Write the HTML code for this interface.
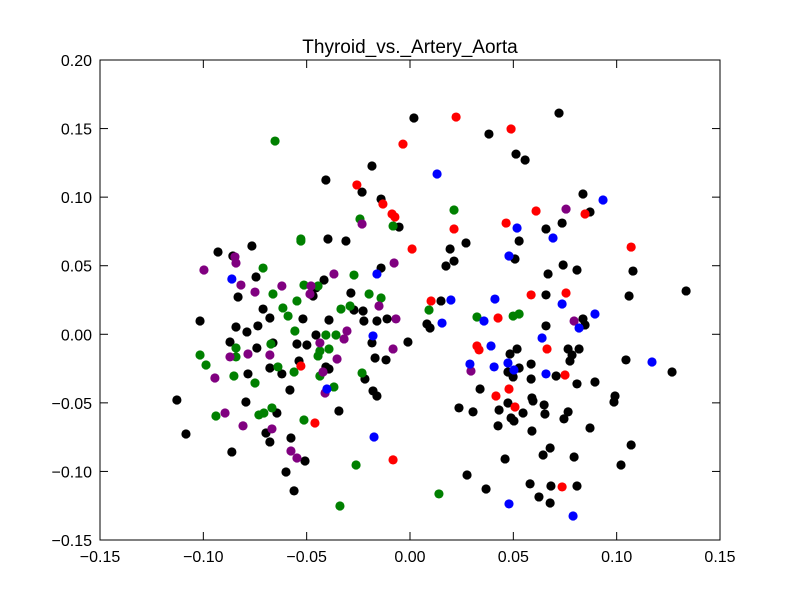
<!DOCTYPE html>
<html><head><meta charset="utf-8"><style>
html,body{margin:0;padding:0;background:#fff;}
svg text{font-family:"Liberation Sans",sans-serif;}
</style></head><body>
<svg id="chart" width="800" height="600" xmlns="http://www.w3.org/2000/svg">
<rect x="0" y="0" width="800" height="600" fill="#fff"/>
<text x="410" y="53" text-anchor="middle" font-size="19">Thyroid_vs._Artery_Aorta</text>
<g id="marks"></g>
<g id="axes"></g>
</svg>
<script>
const xTicks = [-0.15,-0.10,-0.05,0.00,0.05,0.10,0.15];
const xTickLabels = ["\u22120.15","\u22120.10","\u22120.05","0.00","0.05","0.10","0.15"];
const yTicks = [0.20,0.15,0.10,0.05,0.00,-0.05,-0.10,-0.15];
const yTickLabels = ["0.20","0.15","0.10","0.05","0.00","\u22120.05","\u22120.10","\u22120.15"];
const blackX = [-0.0407,-0.0184,-0.0232,-0.014,-0.0053,-0.0397,-0.031,-0.0929,-0.0857,-0.0765,-0.0745,-0.0832,-0.0711,-0.0678,-0.0518,-0.0392,-0.0469,-0.0455,-0.0416,-0.0286,-0.0271,-0.0227,-0.0223,-0.016,-0.0111,-0.014,-0.1016,-0.0842,-0.0736,-0.0789,-0.0871,-0.0741,-0.0663,-0.0547,-0.0499,-0.0455,-0.0184,-0.001,-0.0169,-0.0116,-0.0537,-0.0407,-0.0392,-0.0678,-0.062,-0.0784,-0.0218,-0.0581,-0.0179,-0.016,-0.1128,-0.0794,-0.0644,-0.0344,-0.1084,-0.0697,-0.0678,-0.0576,-0.0862,-0.0508,-0.06,-0.0561,0.0019,0.0721,0.0382,0.0513,0.0557,0.0837,0.0871,0.0736,0.0658,0.0528,0.0271,0.0194,0.0213,0.0174,0.0508,0.0668,0.0741,0.0808,0.1079,0.106,0.1336,0.015,0.0658,0.0082,0.0097,0.0658,0.0837,0.0847,0.0518,0.0484,0.0765,0.0818,0.0784,0.0774,0.0586,0.0528,0.0474,0.0499,0.0586,0.0707,0.0808,0.0895,0.1045,0.1268,0.0339,0.059,0.0595,0.0474,0.0649,0.0992,0.0987,0.0237,0.0305,0.0431,0.0547,0.0653,0.0765,0.0745,0.0489,0.0503,0.0426,0.059,0.0871,0.0678,0.0644,0.046,0.0794,0.107,0.1021,0.0276,0.0581,0.0682,0.0808,0.0368,0.0624,0.0678];
const blackY = [0.1125,0.1227,0.1037,0.0986,0.0782,0.0695,0.068,0.06,0.0571,0.0644,0.0418,0.0272,0.0184,0.0119,0.0112,0.0104,0.0279,0.0338,0.0396,0.0301,0.0177,0.017,0.0097,0.0097,0.0112,0.0483,0.0097,0.0053,0.0061,0.0017,-0.0056,-0.01,-0.0063,-0.0071,-0.0078,-0.0005,-0.0063,-0.0056,-0.0173,-0.0187,-0.0195,-0.0238,-0.0253,-0.0246,-0.0289,-0.0289,-0.0326,-0.0406,-0.0413,-0.045,-0.0479,-0.0494,-0.0574,-0.0559,-0.0727,-0.072,-0.0785,-0.0756,-0.0858,-0.0924,-0.1004,-0.1142,0.1577,0.1613,0.146,0.1314,0.1271,0.1023,0.0892,0.0811,0.0768,0.068,0.0666,0.0622,0.0534,0.0498,0.0549,0.044,0.0505,0.0469,0.0461,0.0279,0.0316,0.0243,0.0287,0.0075,0.0046,0.0061,0.0112,0.0068,-0.0107,-0.0144,-0.0107,-0.0107,-0.0151,-0.0195,-0.0217,-0.0246,-0.0275,-0.0311,-0.0326,-0.0304,-0.0362,-0.0348,-0.0187,-0.0275,-0.0399,-0.0464,-0.0486,-0.0501,-0.0515,-0.045,-0.0494,-0.0537,-0.0566,-0.0552,-0.0574,-0.0581,-0.0566,-0.0617,-0.061,-0.0632,-0.0668,-0.0705,-0.0683,-0.0829,-0.088,-0.0909,-0.0895,-0.0807,-0.0953,-0.1026,-0.1091,-0.1106,-0.1106,-0.1128,-0.1186,-0.123];
const greenX = [-0.0653,-0.0528,-0.0528,-0.0242,-0.0082,-0.0711,-0.0513,-0.0445,-0.0271,-0.0198,-0.014,-0.0663,-0.0615,-0.059,-0.0547,-0.0334,-0.029,-0.0557,-0.0407,-0.0358,-0.0842,-0.0842,-0.1016,-0.0987,-0.0673,-0.0436,-0.0445,-0.0392,-0.0639,-0.0561,-0.0436,-0.0368,-0.0232,-0.0852,-0.075,-0.0939,-0.0731,-0.0707,-0.0668,-0.0513,-0.0261,-0.0339,0.0213,0.0092,0.0324,0.0499,0.0528,0.014];
const greenY = [0.1409,0.0695,0.068,0.0841,0.079,0.0483,0.0359,0.0352,0.0432,0.0294,0.0265,0.0294,0.0192,0.0133,0.0243,0.0184,0.0206,0.0024,-0.0005,-0.0005,-0.01,-0.0165,-0.0151,-0.0224,-0.0071,-0.0122,-0.0158,-0.0107,-0.0238,-0.0275,-0.0304,-0.0384,-0.0282,-0.0304,-0.0355,-0.0596,-0.0588,-0.0574,-0.0537,-0.0625,-0.0953,-0.1252,0.0906,0.0177,0.0126,0.0133,0.0148,-0.1164];
const purpleX = [-0.0997,-0.0847,-0.0842,-0.0818,-0.075,-0.062,-0.0479,-0.0484,-0.0368,-0.0232,-0.0077,-0.015,-0.0068,-0.0305,-0.0319,-0.0436,-0.0871,-0.0784,-0.0678,-0.0353,-0.0421,-0.0411,-0.0082,-0.0944,-0.0895,-0.0808,-0.0668,-0.0576,-0.0547,0.0755,0.0794,0.0295];
const purpleY = [0.0469,0.0564,0.052,0.0359,0.0308,0.0352,0.0352,0.0294,0.044,0.0804,0.052,0.0206,0.0112,0.0024,-0.0034,-0.0063,-0.0165,-0.0144,-0.0151,-0.018,-0.0275,-0.0428,-0.0107,-0.0319,-0.0574,-0.0668,-0.069,-0.0851,-0.0902,0.0913,0.0097,-0.0268];
const redX = [-0.0257,0.0223,-0.0034,-0.0131,-0.0087,-0.0073,0.001,0.0102,0.0489,0.0465,0.0213,0.061,0.0847,0.107,0.0586,0.0755,0.0426,0.0324,0.0334,0.0663,0.075,0.0479,0.0416,0.0508,0.0736,-0.0528,-0.046,-0.0082];
const redY = [0.1089,0.1584,0.1387,0.095,0.0877,0.0855,0.0622,0.0243,0.1497,0.0811,0.0768,0.0899,0.0877,0.0636,0.0287,0.0301,0.0119,-0.0085,-0.0114,-0.0107,-0.0297,-0.0399,-0.045,-0.053,-0.1113,-0.0231,-0.0647,-0.0916];
const blueX = [0.0131,0.0934,0.0518,0.0692,0.0479,0.0198,0.0411,0.0736,0.0895,0.0155,0.0358,0.0818,0.0639,0.0392,0.029,0.0407,0.0474,0.0503,0.0658,0.1171,0.0479,0.0789,-0.0862,-0.016,-0.0179,-0.0402,-0.0174];
const blueY = [0.1169,0.0979,0.0775,0.0702,0.0571,0.025,0.0257,0.0221,0.0148,0.0082,0.0097,0.0046,-0.0027,-0.0085,-0.0217,-0.0238,-0.0209,-0.026,-0.0289,-0.0202,-0.1237,-0.1325,0.0403,0.044,-0.0012,-0.0399,-0.0749];

const L=100,R=720,T=60,B=540;
const xMin=-0.15,xMax=0.15,yMin=-0.15,yMax=0.20;
function sx(v){return L+(v-xMin)/(xMax-xMin)*(R-L);}
function sy(v){return B-(v-yMin)/(yMax-yMin)*(B-T);}
const NS="http://www.w3.org/2000/svg";
const marks=document.getElementById('marks');
const axes=document.getElementById('axes');
function mk(tag,attrs,parent){const e=document.createElementNS(NS,tag);for(const k in attrs)e.setAttribute(k,attrs[k]);parent.appendChild(e);return e;}
function series(xs,ys,color,name){
  const g=mk('g',{},marks);
  
  
  for(let i=0;i<xs.length;i++){
    const c=mk('circle',{cx:sx(xs[i]),cy:sy(ys[i]),r:4.6,fill:color},g);
    
    
  }
}
series(blackX,blackY,'#000000','black');
series(greenX,greenY,'#008000','green');
series(purpleX,purpleY,'#800080','purple');
series(redX,redY,'#ff0000','red');
series(blueX,blueY,'#0000ff','blue');

const frame=mk('rect',{x:L,y:T,width:R-L,height:B-T,fill:'none',stroke:'#000','stroke-width':1},axes);


xTicks.forEach((v,i)=>{
  const x=sx(v);
  mk('line',{x1:x,x2:x,y1:B,y2:B-8,stroke:'#000'},axes);
  mk('line',{x1:x,x2:x,y1:T,y2:T+8,stroke:'#000'},axes);
  const t=mk('text',{x:x,y:B+22,'text-anchor':'middle','font-size':16},axes);
  t.textContent=xTickLabels[i];
  
  
});
yTicks.forEach((v,i)=>{
  const y=sy(v);
  mk('line',{x1:L,x2:L+8,y1:y,y2:y,stroke:'#000'},axes);
  mk('line',{x1:R,x2:R-8,y1:y,y2:y,stroke:'#000'},axes);
  const t=mk('text',{x:L-8,y:y+6,'text-anchor':'end','font-size':16},axes);
  t.textContent=yTickLabels[i];
  
  
});
</script>
</body></html>
